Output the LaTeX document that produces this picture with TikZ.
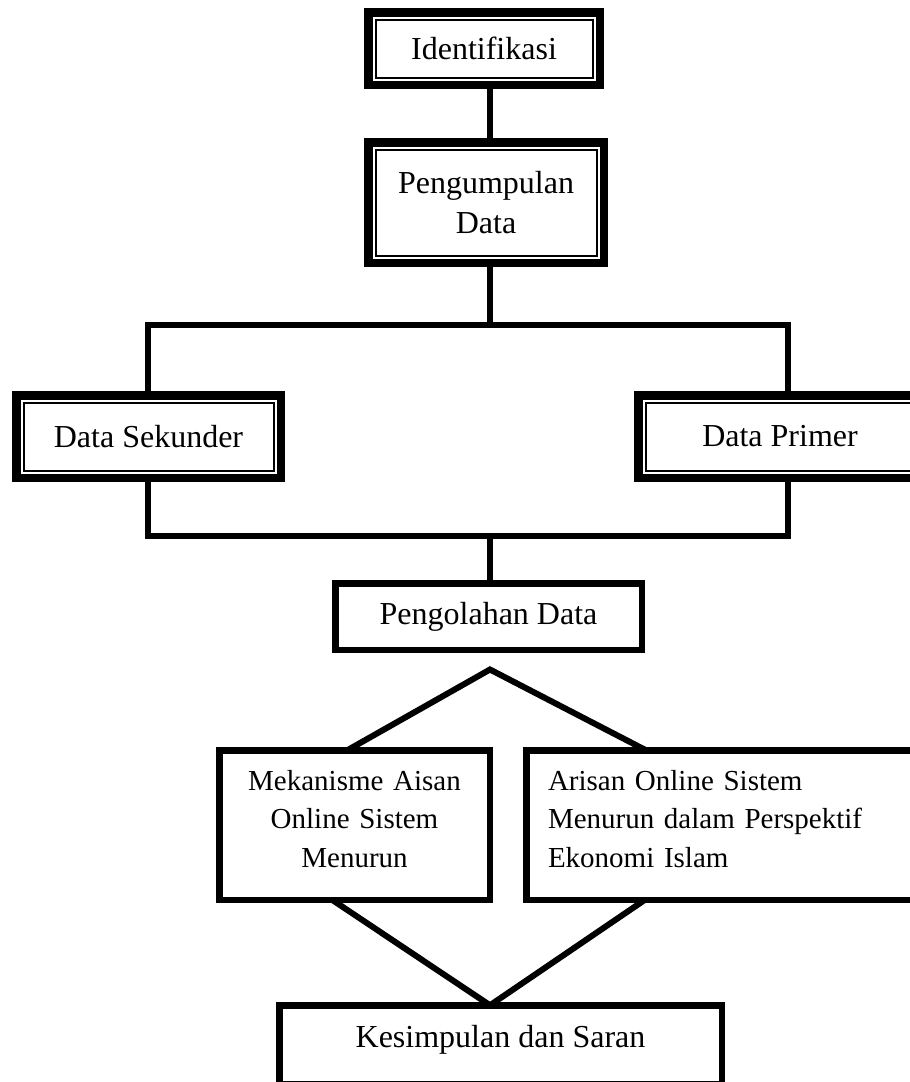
\documentclass[tikz,border=0pt]{standalone}
\usepackage{fontspec}
\setmainfont{Liberation Serif}
\usetikzlibrary{backgrounds}
\tikzset{
  bigtext/.style={font=\fontsize{32}{40}\selectfont},
  smalltext/.style={font=\fontsize{29}{38.5}\selectfont},
  dbox/.style={draw, fill=white, line width=8.5pt, inner sep=0pt, outer sep=0pt, bigtext, align=center},
  sbox/.style={draw, fill=white, line width=6.5pt, inner sep=0pt, outer sep=0pt},
  innerline/.style={line width=2pt},
  conn/.style={line width=6pt, line join=miter}
}
\begin{document}
\begin{tikzpicture}[x=1pt,y=-1pt]
\useasboundingbox (0,0) rectangle (910,1082);
\clip (0,0) rectangle (910,1082);

\node[dbox, minimum width=231.5pt, minimum height=72.5pt] (ident) at (484,48.5) {Identifikasi};
\node[dbox, minimum width=235.5pt, minimum height=120.5pt] (pengum) at (486,202.5) {Pengumpulan\\Data};
\node[dbox, minimum width=264.5pt, minimum height=82.5pt] (seku) at (148.5,436.5) {Data Sekunder};
\node[dbox, minimum width=283.5pt, minimum height=82.5pt] (prim) at (780,436.5) {Data Primer};
\node[sbox, bigtext, minimum width=306.5pt, minimum height=66.5pt] (olah) at (488.5,616.5) {Pengolahan Data};
\node[sbox, smalltext, minimum width=270.5pt, minimum height=149.5pt, text width=250pt, align=center, text depth=90pt] (mek) at (354.5,825) {Mekanisme Aisan\\Online Sistem\\Menurun};
\node[sbox, smalltext, minimum width=410.5pt, minimum height=149.5pt, text width=367pt, inner xsep=21.75pt, align=left, text depth=90pt] (aris) at (731.5,825) {Arisan Online Sistem\\Menurun dalam Perspektif\\Ekonomi Islam};
\node[sbox, bigtext, minimum width=442.5pt, minimum height=79pt, text depth=17.4pt] (kes) at (500.5,1044.75) {Kesimpulan dan Saran};

\foreach \n in {ident,pengum,seku,prim}
  \draw[innerline] ([xshift=7.25pt,yshift=-7.25pt]\n.north west) rectangle ([xshift=-7.25pt,yshift=7.25pt]\n.south east);

\coordinate (cx) at (490,0);
\coordinate (xl) at (148,0);
\coordinate (xr) at (788,0);
\coordinate (bar1) at (0,324.5);
\coordinate (bar2) at (0,535.5);
\coordinate (apex) at (490,669.5);
\coordinate (dl) at (347.3,0);
\coordinate (dr) at (646,0);
\coordinate (vl) at (332,0);
\coordinate (vr) at (645,0);

\begin{pgfonlayer}{background}
\fill[white] (0,0) rectangle (910,1082);
\draw[conn] (ident.south -| cx) -- (pengum.north -| cx);
\draw[conn] (pengum.south -| cx) -- (cx |- bar1);
\draw[conn] (seku.north -| xl) -- (xl |- bar1) -- (xr |- bar1) -- (prim.north -| xr);
\draw[conn] (seku.south -| xl) -- (xl |- bar2) -- (xr |- bar2) -- (prim.south -| xr);
\draw[conn] (cx |- bar2) -- (olah.north -| cx);
\draw[conn] (mek.north -| dl) -- (apex) -- (aris.north -| dr);
\draw[conn] (mek.south -| vl) -- (kes.north -| cx) -- (aris.south -| vr);
\end{pgfonlayer}
\end{tikzpicture}
\end{document}
